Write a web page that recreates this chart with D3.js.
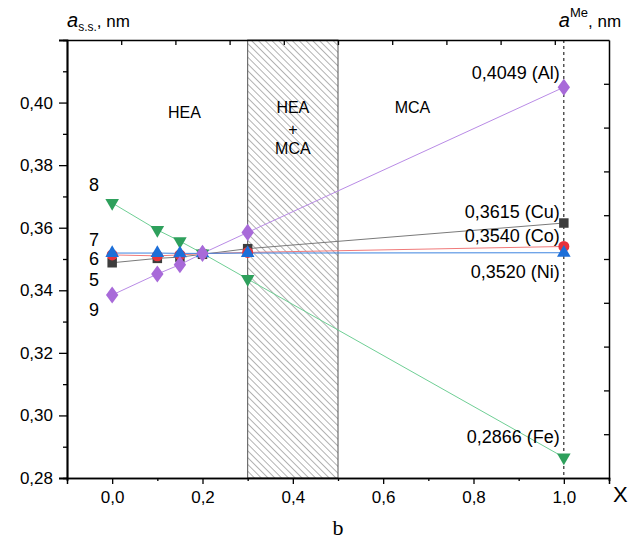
<!DOCTYPE html>
<html>
<head>
<meta charset="utf-8">
<style>
  body { margin: 0; background: #fff; }
  text { font-family: "Liberation Sans", Arial, sans-serif; }
</style>
</head>
<body>
<script src="https://cdn.jsdelivr.net/npm/d3@7/dist/d3.min.js"></script>
<script>
// composition x and lattice parameters (nm)
var xs = [0, 0.1, 0.15, 0.2, 0.3, 1.0];
var cu = [0.3488, 0.3502, 0.3506, 0.3515, 0.3533, 0.3615];
var co = [0.3513, 0.3510, 0.3513, 0.3517, 0.3521, 0.3540];
var fe = [0.3679, 0.3593, 0.3557, 0.3518, 0.3436, 0.2866];
var ni = [0.3519, 0.3519, 0.3518, 0.3518, 0.3519, 0.3520];
var al = [0.3385, 0.3452, 0.3482, 0.3518, 0.3585, 0.4049];

var endLabels = ["0,3615 (Cu)", "0,3540 (Co)", "0,2866 (Fe)", "0,3520 (Ni)", "0,4049 (Al)"];
var endLabelY = [0.3650, 0.3574, 0.2931, 0.3459, 0.4095];
var curveNums = ["8", "7", "6", "5", "9"];
var curveNumY = [0.3737, 0.3563, 0.3502, 0.3433, 0.3337];
var regionNames = ["HEA", "MCA"];
var xTicks = [0, 0.2, 0.4, 0.6, 0.8, 1.0];
var yTicks = [0.28, 0.30, 0.32, 0.34, 0.36, 0.38, 0.40];

var W = 629, H = 541;
var margin = {top: 40, right: 20, bottom: 63, left: 67};
var width = W - margin.left - margin.right,
    height = H - margin.top - margin.bottom;

var x = d3.scaleLinear().domain([-0.1, 1.1]).range([0, width]);
var y = d3.scaleLinear().domain([0.28, 0.42]).range([height, 0]);

var comma = function(f) { return function(d) { return d3.format(f)(d).replace(".", ","); }; };

var svg = d3.select("body").append("svg")
    .attr("width", W)
    .attr("height", H);

var defs = svg.append("defs");
var pat = defs.append("pattern")
    .attr("id", "hatch")
    .attr("patternUnits", "userSpaceOnUse")
    .attr("width", 4.8).attr("height", 4.8)
    .attr("patternTransform", "rotate(-45)");
pat.append("line")
    .attr("x1", 0).attr("y1", 0).attr("x2", 0).attr("y2", 4.8)
    .attr("stroke", "#555").attr("stroke-width", 0.9);

var g = svg.append("g")
    .attr("transform", "translate(" + margin.left + "," + margin.top + ")");

// two-phase region
g.append("rect")
    .attr("x", x(0.3)).attr("y", 0)
    .attr("width", x(0.5) - x(0.3)).attr("height", height)
    .attr("fill", "url(#hatch)")
    .attr("stroke", "#555").attr("stroke-width", 1);

// region labels
g.append("text").attr("x", x(0.16)).attr("y", y(0.3967)).attr("dy", "0.35em")
    .attr("text-anchor", "middle").style("font-size", "16px").text(regionNames[0]);
g.append("text").attr("x", x(0.665)).attr("y", y(0.3986)).attr("dy", "0.35em")
    .attr("text-anchor", "middle").style("font-size", "16px").text(regionNames[1]);
var mid = g.append("text").attr("x", x(0.4)).attr("text-anchor", "middle").style("font-size", "16px");
mid.append("tspan").attr("x", x(0.4)).attr("y", y(0.3983)).attr("dy", "0.35em").text(regionNames[0]);
mid.append("tspan").attr("x", x(0.4)).attr("y", y(0.3913)).attr("dy", "0.35em").text("+");
mid.append("tspan").attr("x", x(0.4)).attr("y", y(0.3855)).attr("dy", "0.35em").text(regionNames[1]);

// dashed line at x = 1
g.append("line")
    .attr("x1", x(1)).attr("x2", x(1)).attr("y1", 0).attr("y2", height)
    .attr("stroke", "#000").attr("stroke-width", 1).attr("stroke-dasharray", "3,3");

// series
var series = [
  {vals: cu, line: "#7a7a7a", fill: "#3d3d3d", shape: d3.symbolSquare, size: 90, rot: 0},
  {vals: co, line: "#f07a7a", fill: "#e8323c", shape: d3.symbolCircle, size: 95, rot: 0},
  {vals: fe, line: "#6fcf95", fill: "#2ea05c", shape: d3.symbolTriangle, size: 80, rot: 180},
  {vals: ni, line: "#3d84e0", fill: "#1d6fd8", shape: d3.symbolTriangle, size: 80, rot: 0},
  {vals: al, line: "#b98be6", fill: "#a86ad9", shape: d3.symbolDiamond, size: 85, rot: 0}
];

var line = d3.line().x(function(d) { return x(d[0]); }).y(function(d) { return y(d[1]); });

series.forEach(function(s) {
  var pts = xs.map(function(v, i) { return [v, s.vals[i]]; });
  g.append("path").datum(pts)
      .attr("fill", "none").attr("stroke", s.line).attr("stroke-width", 1)
      .attr("d", line);
});
series.forEach(function(s) {
  var pts = xs.map(function(v, i) { return [v, s.vals[i]]; });
  g.selectAll(null).data(pts).enter().append("path")
      .attr("d", d3.symbol().type(s.shape).size(s.size))
      .attr("transform", function(d) {
        return "translate(" + x(d[0]) + "," + y(d[1]) + ") rotate(" + s.rot + ")" + (s.shape === d3.symbolDiamond ? " scale(1.25,1)" : "");
      })
      .attr("fill", s.fill);
});

// end value labels
endLabels.forEach(function(t, i) {
  g.append("text")
      .attr("x", x(1) - 4).attr("y", y(endLabelY[i])).attr("dy", "0.35em")
      .attr("text-anchor", "end").style("font-size", "18px").text(t);
});

// curve numbers
curveNums.forEach(function(t, i) {
  g.append("text")
      .attr("x", x(-0.04)).attr("y", y(curveNumY[i])).attr("dy", "0.35em")
      .attr("text-anchor", "middle").style("font-size", "18px").text(t);
});

// axes
g.append("g").attr("transform", "translate(0," + height + ")")
    .call(d3.axisBottom(x).tickValues(xTicks).tickFormat(comma(".1f")).tickSize(6).tickPadding(7));
g.append("g").attr("transform", "translate(0," + height + ")")
    .call(d3.axisBottom(x).tickValues(d3.range(-0.1, 1.11, 0.2)).tickFormat("").tickSize(3));
g.append("g")
    .call(d3.axisLeft(y).tickValues(yTicks).tickFormat(comma(".2f")).tickSize(8).tickPadding(6));
g.append("g")
    .call(d3.axisLeft(y).tickValues(d3.range(0.29, 0.42, 0.02)).tickFormat("").tickSize(4));
g.append("g")
    .call(d3.axisLeft(y).tickValues([0.42]).tickFormat("").tickSize(8));

// top and right frame with plain inward ticks
var xTop = d3.scaleLinear().domain([0, 10]).range([0, width]);
g.append("g").call(d3.axisBottom(xTop).tickValues(d3.range(1, 10)).tickFormat("").tickSize(5).tickSizeOuter(0));
var yRight = d3.scaleLinear().domain([0, 10]).range([height, 0]);
g.append("g").attr("transform", "translate(" + width + ",0)")
    .call(d3.axisLeft(yRight).tickValues(d3.range(1, 10)).tickFormat("").tickSize(5).tickSizeOuter(0));

g.selectAll(".domain").attr("stroke", "#000").attr("stroke-width", 1.5);
g.selectAll(".tick line").attr("stroke", "#000").attr("stroke-width", 1.3);
g.selectAll(".tick text").style("font-size", "17px").attr("fill", "#000")
    .style("font-family", "'Liberation Sans', Arial, sans-serif");

// axis titles
var t1 = svg.append("text").attr("x", margin.left).attr("y", 27).style("font-size", "17px");
t1.append("tspan").style("font-style", "italic").style("font-size", "20px").text("a");
t1.append("tspan").attr("dy", 4).style("font-size", "12px").text("s.s.");
t1.append("tspan").attr("dy", -4).text(", nm");

var t2 = svg.append("text").attr("x", margin.left + x(1) - 5).attr("y", 27).style("font-size", "17px");
t2.append("tspan").style("font-style", "italic").style("font-size", "20px").text("a");
t2.append("tspan").attr("dy", -10).style("font-size", "13px").text("Me");
t2.append("tspan").attr("dy", 10).text(", nm");

svg.append("text").attr("x", margin.left + width + 4).attr("y", margin.top + height + 24)
    .style("font-size", "22px").text("X");
svg.append("text").attr("x", margin.left + x(0.5)).attr("y", 535)
    .attr("text-anchor", "middle")
    .style("font-family", "'Liberation Serif', 'Times New Roman', serif").style("font-size", "22px").text("b");
</script>
</body>
</html>
